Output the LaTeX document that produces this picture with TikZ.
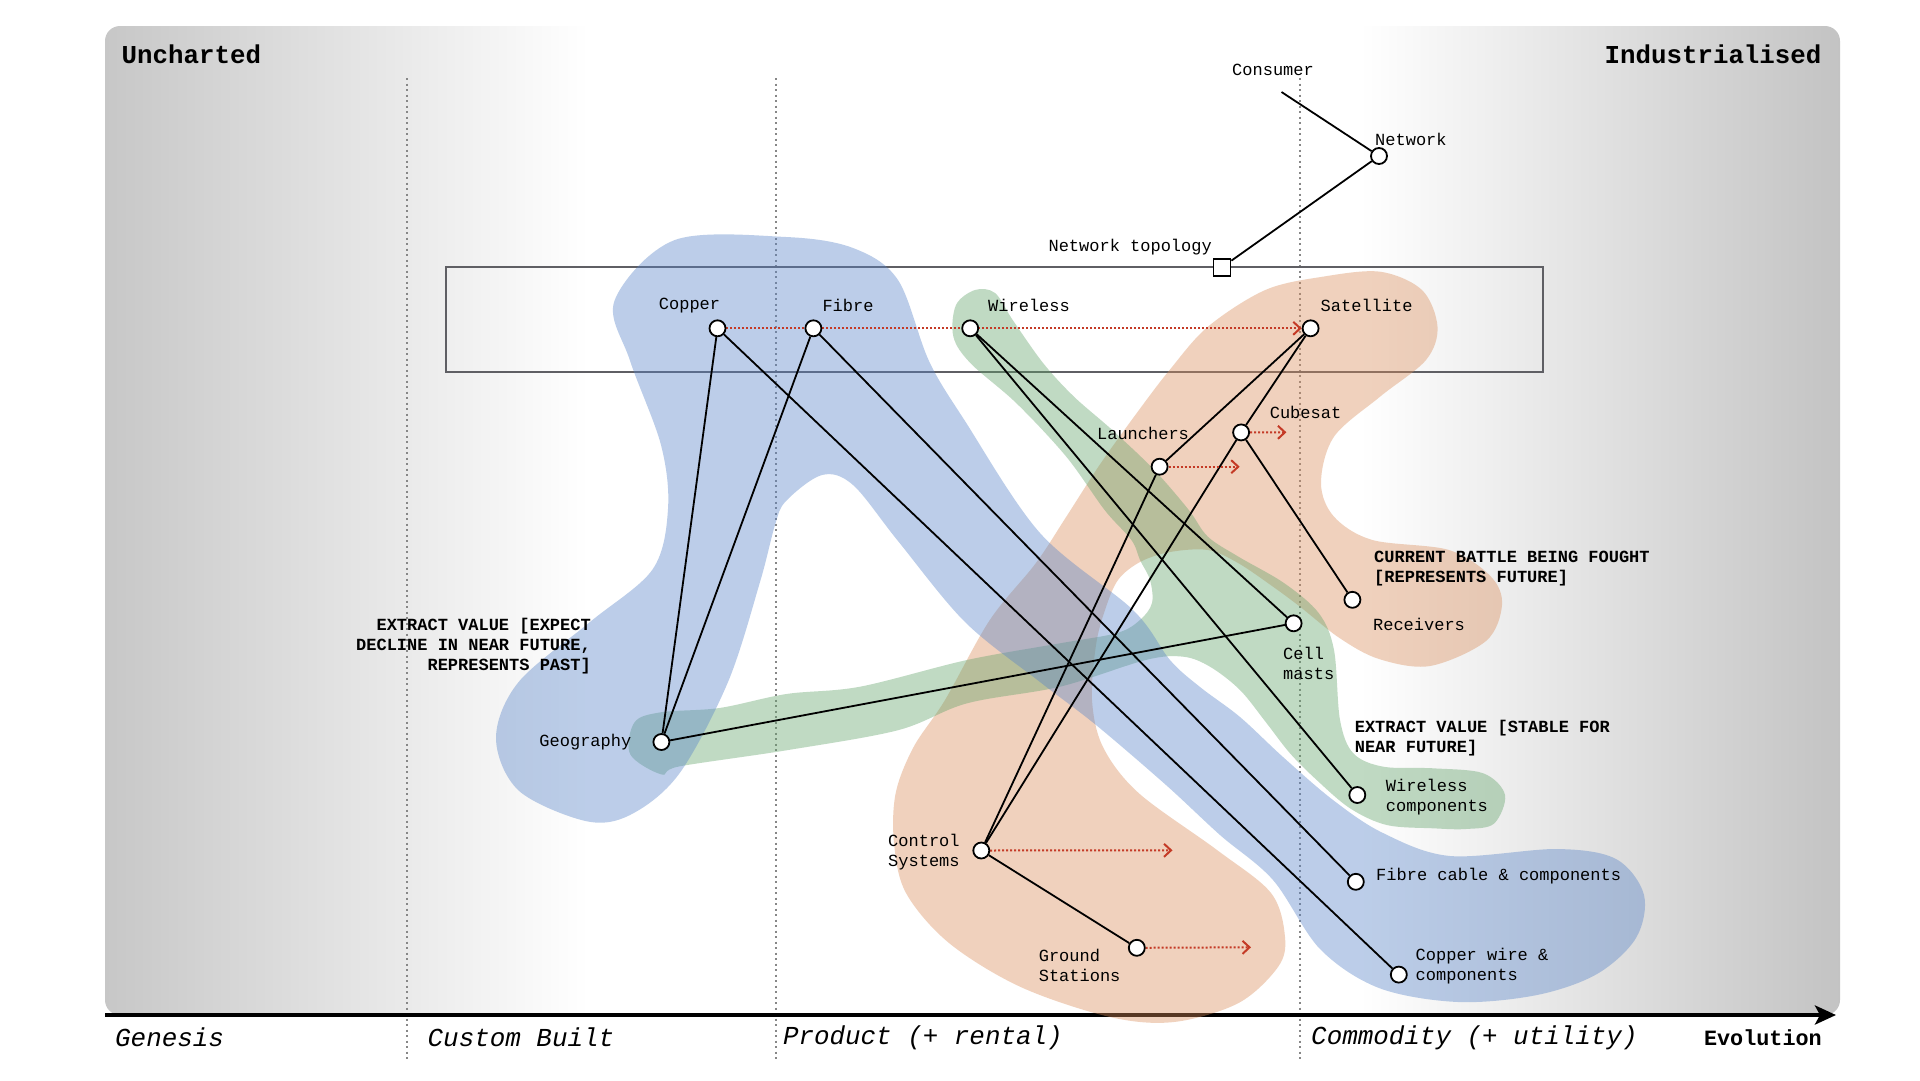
\documentclass[tikz,border=0pt]{standalone}
\usepackage{fontspec}
\setmainfont{Liberation Mono}
\usetikzlibrary{arrows.meta}
\definecolor{bluec}{RGB}{88,132,200}
\definecolor{orangec}{RGB}{218,142,92}
\definecolor{greenc}{RGB}{98,163,106}
\definecolor{evored}{RGB}{196,58,38}
\definecolor{rectgray}{RGB}{95,95,100}
\definecolor{sepgray}{RGB}{135,135,135}
\definecolor{bgg}{RGB}{199,199,199}
\definecolor{bggr}{RGB}{195,195,195}
\pgfdeclarelayer{bg}
\pgfdeclarelayer{edges}
\pgfsetlayers{bg,edges,main}
\newcommand\lblfont{\fontsize{17}{20}\selectfont}
\newcommand\annfont{\fontsize{17}{20}\selectfont\bfseries}
\newcommand\cornerfont{\fontsize{25.8}{30}\selectfont\bfseries}
\newcommand\stagefont{\fontsize{25.9}{30}\selectfont\itshape}
\newcommand\evofont{\fontsize{21.8}{26}\selectfont\bfseries}
\tikzset{
  comp/.style={circle, draw=black, fill=white, line width=1.8pt, minimum size=16pt, inner sep=0pt},
  sqnode/.style={rectangle, draw=black, fill=white, line width=1.8pt, minimum size=17pt, inner sep=0pt},
  lbl/.style={inner sep=0pt, font=\lblfont, align=left},
  ann/.style={inner sep=0pt, font=\annfont},
  link/.style={draw=black, line width=1.8pt},
  evoarrow/.style={draw=evored, line width=2pt, dash pattern=on 2pt off 2pt, -{Straight Barb[length=7pt,width=13pt]}},
  stagesep/.style={draw=sepgray, line width=1.8pt, dash pattern=on 2pt off 3.5pt},
  blob/.style={fill opacity=0.4, draw=none},
}
\begin{document}
\begin{tikzpicture}[x=1pt,y=-1pt]
\useasboundingbox (0,0) rectangle (1920,1080);

% ---------- nodes ----------
\coordinate (consumerpt) at (1281.5,92);
\node[lbl] (consumer) at (1273,70) {Consumer};
\node[comp] (network) at (1379,156) {};
\node[lbl, anchor=west] (networkl) at (1375,139) {Network};
\node[sqnode] (ntopo) at (1222,267.3) {};
\node[lbl, anchor=east] (ntopol) at (1212,247) {Network topology};

\node[comp] (copper) at (717.5,328.3) {};
\node[lbl] (copperl) at (689.5,306) {Copper};
\node[comp] (fibre) at (813.4,328.3) {};
\node[lbl] (fibrel) at (848,305) {Fibre};
\node[comp] (wireless) at (970.2,328.3) {};
\node[lbl] (wirelessl) at (1029,305) {Wireless};
\node[comp] (satellite) at (1310.6,328.3) {};
\node[lbl] (satellitel) at (1366.6,305) {Satellite};

\node[comp] (launchers) at (1159.6,466.7) {};
\node[lbl] (launchersl) at (1143,433) {Launchers};
\node[comp] (cubesat) at (1241.1,432.4) {};
\node[lbl] (cubesatl) at (1305.5,412) {Cubesat};
\node[comp] (receivers) at (1352.4,599.8) {};
\node[lbl] (receiversl) at (1419,624) {Receivers};
\node[comp] (cellmasts) at (1293.6,623.3) {};
\node[lbl, anchor=west] (cellmastsl) at (1283,663) {Cell\\masts};
\node[comp] (geography) at (661.4,742) {};
\node[lbl, anchor=east] (geographyl) at (631.5,742) {Geography};
\node[comp] (wirelesscomp) at (1357.3,795) {};
\node[lbl, anchor=west] (wirelesscompl) at (1385.7,796.7) {Wireless\\components};
\node[comp] (control) at (981.3,850.5) {};
\node[lbl, anchor=west] (controll) at (888,852) {Control\\Systems};
\node[comp] (ground) at (1136.8,947.8) {};
\node[lbl, anchor=west] (groundl) at (1038.6,965) {Ground\\Stations};
\node[comp] (fibrecable) at (1355.8,881.8) {};
\node[lbl, anchor=west] (fibrecablel) at (1376,876.4) {Fibre cable \& components};
\node[comp] (copperwire) at (1398.8,974.6) {};
\node[lbl, anchor=west] (copperwirel) at (1415.5,965.7) {Copper wire \&\\components};

\node[ann, anchor=west, align=left] (battle) at (1374,568.8) {CURRENT BATTLE BEING FOUGHT\\{[}REPRESENTS FUTURE{]}};
\node[ann, anchor=west, align=left] (stable) at (1354.6,737.9) {EXTRACT VALUE {[}STABLE FOR\\NEAR FUTURE{]}};
\node[ann, anchor=east, align=right] (decline) at (591,646) {EXTRACT VALUE {[}EXPECT\\DECLINE IN NEAR FUTURE,\\REPRESENTS PAST{]}};

\node[inner sep=0pt, font=\cornerfont, anchor=west] (uncharted) at (121.5,54) {Uncharted};
\node[inner sep=0pt, font=\cornerfont, anchor=east] (industrialised) at (1821.6,54) {Industrialised};

\node[inner sep=0pt, font=\stagefont, anchor=west] (genesis) at (115,1037.6) {Genesis};
\node[inner sep=0pt, font=\stagefont, anchor=west] (custom) at (427.5,1037.6) {Custom Built};
\node[inner sep=0pt, font=\stagefont, anchor=west] (product) at (782.8,1037.6) {Product (+ rental)};
\node[inner sep=0pt, font=\stagefont, anchor=west] (commodity) at (1311,1037.6) {Commodity (+ utility)};
\node[inner sep=0pt, font=\evofont, anchor=east] (evolution) at (1822,1037.6) {Evolution};

\coordinate (cubesatto) at (1286.4,432.3);
\coordinate (launchersto) at (1239.7,466.7);
\coordinate (controlto) at (1172.5,850.3);
\coordinate (groundto) at (1251,947.3);
\coordinate (axisstart) at (105,1015);
\coordinate (axisend) at (1836,1015);

% ---------- background ----------
\begin{pgfonlayer}{bg}
\begin{scope}
\clip[rounded corners=15pt] (105,26) rectangle (1840,1015);
\shade[left color=bgg, right color=white] (104,25) rectangle (589,1016);
\fill[white] (588,25) rectangle (1361,1016);
\shade[left color=white, right color=bggr] (1360,25) rectangle (1841,1016);
\end{scope}
\draw[stagesep] (407,78) -- (407,1060);
\draw[stagesep] (776,78) -- (776,1060);
\draw[stagesep] (1300,78) -- (1300,1060);
\draw[draw=rectgray, line width=2pt] (446,267.3) rectangle (1542.7,372.3);
\draw[line width=4.5pt, -{Stealth[length=21pt,width=19pt,inset=5pt]}] (axisstart) -- (axisend);

% orange blob
\fill[blob, fill=orangec] plot[smooth cycle, tension=0.55] coordinates {
(1322.7,276.7) (1380,271.7) (1422,290) (1437.5,326.7) (1426,360) (1380,396.7) (1334,436.7) (1321,483) (1334,516.7) (1372.5,540) (1449,550) (1491,576.7) (1502,605) (1486,641) (1430,666) (1379,659) (1339.5,638) (1300,606.7) (1273,586.7) (1238.5,563.3) (1208,550) (1170,552) (1140,562) (1118,580) (1105,610) (1096,645) (1092,700) (1103,747) (1138.6,793) (1217,850) (1271,893) (1285,937) (1278,967) (1238.6,1003) (1174,1022) (1110,1017) (1020.7,987) (949,943) (906,893) (894,843) (895.7,793) (913.6,747) (945,700) (989.8,620) (1035.7,563.3) (1066.3,516.7) (1100.7,463.3) (1139,410) (1169.6,370) (1207.9,326.7) (1265.3,290)};

% green blob
\fill[blob, fill=greenc] plot[smooth cycle, tension=0.55] coordinates {
(975,290) (995,293) (1012.7,320) (1043.3,363.3) (1074,396.7) (1112.2,430) (1154.3,470) (1188.8,510) (1207.9,536.7) (1238.5,556.7) (1284.4,583.3) (1318.9,613.3) (1334,650) (1340,720) (1353.3,753.3) (1383.3,766.7) (1433.3,768.3) (1483.3,773.3) (1505,795) (1494,823.6) (1466,829) (1433.3,828.3) (1386.7,825) (1350,808.3) (1316.7,780) (1290,753.3) (1266.7,723.3) (1240,690) (1210,666.7) (1183.3,656.7) (1145.7,660) (1060,686.7) (967,703.3) (898,730.2) (786.4,750.3) (679.3,766.4) (661.4,774.4) (630.2,754.3) (634.6,722.2) (661.4,712.2) (719.5,708) (786.4,694) (860,686.7) (967,660) (1060,643.3) (1117,633) (1140,620) (1152,603) (1150,580) (1140,560) (1131.4,540) (1104.6,510) (1066.3,456.7) (1016.5,403.3) (970.6,363.3) (953.4,336.7) (956,305)};

% blue blob
\fill[blob, fill=bluec] plot[smooth cycle, tension=0.55] coordinates {
(614.6,300.4) (674.8,240) (786,237) (853,248) (898,280) (929,361) (965,421) (1040,533) (1133,610) (1170,660) (1200,687) (1240,717) (1283,757) (1333,800) (1383,833) (1450,856) (1557,849) (1616,859) (1644,895) (1636,938) (1597,974) (1537,995) (1458,1002) (1379,988) (1320,949) (1273,880) (1220,835) (1166,785) (1096,725) (1040,682) (965,622) (898,541) (853,485) (822,475) (786,501) (775,525) (760,582) (728,682) (679,774) (630,815) (585.5,821) (518.6,790.5) (496,738) (518.6,682) (590,622) (652.5,569.5) (668,509) (661,445) (630,360.6)};
\end{pgfonlayer}

% ---------- connectors ----------
\begin{pgfonlayer}{edges}
\draw[link] (consumerpt) -- (network);
\draw[link] (network) -- (ntopo);
\draw[link] (copper) -- (geography);
\draw[link] (fibre) -- (geography);
\draw[link] (copper) -- (copperwire);
\draw[link] (fibre) -- (fibrecable);
\draw[link] (wireless) -- (cellmasts);
\draw[link] (wireless) -- (wirelesscomp);
\draw[link] (geography) -- (cellmasts);
\draw[link] (satellite) -- (launchers);
\draw[link] (satellite) -- (cubesat);
\draw[link] (launchers) -- (control);
\draw[link] (cubesat) -- (control);
\draw[link] (cubesat) -- (receivers);
\draw[link] (control) -- (ground);

\draw[evoarrow] (copper) -- (satellite);
\draw[evoarrow] (cubesat) -- (cubesatto);
\draw[evoarrow] (launchers) -- (launchersto);
\draw[evoarrow] (control) -- (controlto);
\draw[evoarrow] (ground) -- (groundto);
\end{pgfonlayer}
\end{tikzpicture}
\end{document}
